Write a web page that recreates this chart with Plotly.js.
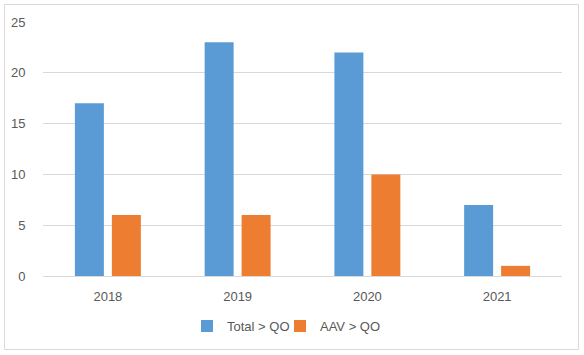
<!DOCTYPE html>
<html>
<head>
<meta charset="utf-8">
<script src="https://cdn.plot.ly/plotly-3.0.1.min.js"></script>
<style>
html,body{margin:0;padding:0;background:#fff;}
#chart{width:584px;height:355px;}
</style>
</head>
<body>
<div id="chart"></div>
<script>
var years = ['2018', '2019', '2020', '2021'];
var totalQO = [17, 23, 22, 7];
var aavQO = [6, 6, 10, 1];
var seriesNames = ['Total > QO', 'AAV > QO'];
var yTicks = [0, 5, 10, 15, 20, 25];

var data = [
  {type: 'bar', x: years, y: totalQO, name: seriesNames[0], marker: {color: '#5B9BD5'}, hoverinfo: 'x+y', legend: 'legend'},
  {type: 'bar', x: years, y: aavQO, name: seriesNames[1], marker: {color: '#ED7D31'}, hoverinfo: 'x+y', legend: 'legend2'}
];

var legendFont = {size: 13, color: '#595959'};
var layout = {
  width: 584, height: 355,
  margin: {l: 43, r: 22, t: 22, b: 79},
  paper_bgcolor: '#ffffff', plot_bgcolor: '#ffffff',
  font: {family: 'Liberation Sans, Arial, sans-serif', size: 13, color: '#595959'},
  barmode: 'group', bargap: 0.43, bargroupgap: 0.216,
  showlegend: true,
  legend: {orientation: 'h', x: 0.2775, xanchor: 'left', y: -0.197, yanchor: 'middle',
           font: legendFont, itemwidth: 30, bgcolor: 'rgba(0,0,0,0)'},
  legend2: {orientation: 'h', x: 0.4566, xanchor: 'left', y: -0.197, yanchor: 'middle',
           font: legendFont, itemwidth: 30, bgcolor: 'rgba(0,0,0,0)'},
  xaxis: {type: 'category', showgrid: false, showline: true, linecolor: '#d9d9d9', linewidth: 1,
          ticks: 'outside', ticklen: 8, tickcolor: 'rgba(0,0,0,0)', zeroline: false, fixedrange: true},
  yaxis: {range: [0, 25], tickvals: yTicks, showgrid: true, gridcolor: '#d9d9d9', gridwidth: 1,
          zeroline: false, showline: false, ticks: 'outside', ticklen: 14, tickcolor: 'rgba(0,0,0,0)', fixedrange: true},
  shapes: [{type: 'rect', xref: 'paper', yref: 'paper', x0: -0.0742, x1: 1.0318, y0: -0.2894, y1: 1.0689,
            line: {color: '#d9d9d9', width: 1}, fillcolor: 'rgba(0,0,0,0)', layer: 'below'}]
};

Plotly.newPlot('chart', data, layout, {displayModeBar: false, staticPlot: true});
</script>
</body>
</html>
